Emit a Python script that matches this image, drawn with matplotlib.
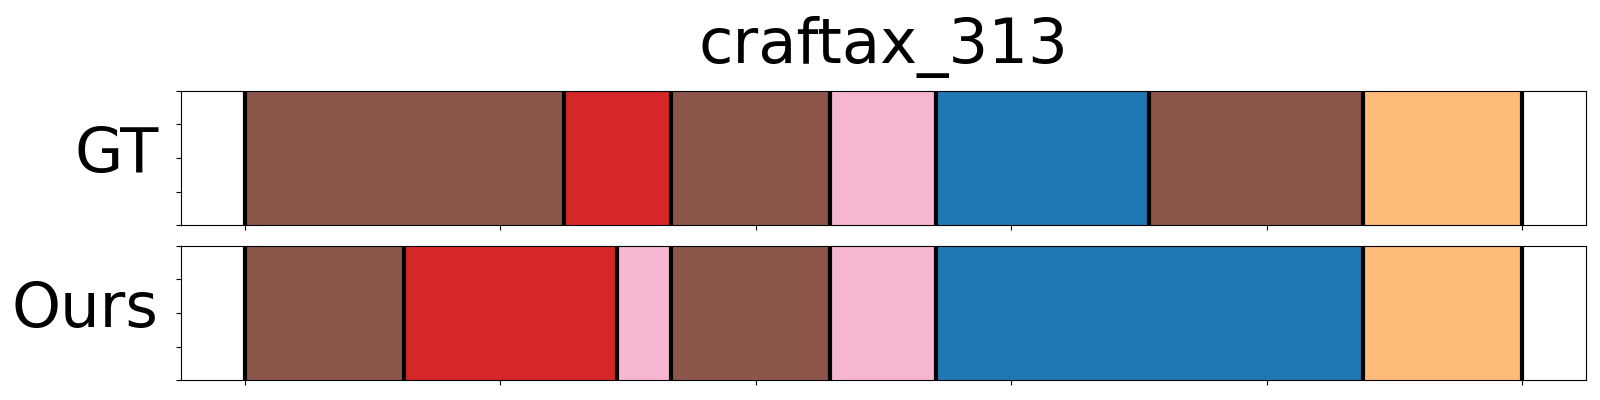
import numpy as np
import matplotlib
matplotlib.use("Agg")
import matplotlib.pyplot as plt

title = "craftax_313"
row_labels = ["GT", "Ours"]

# segment boundaries (frame indices) and class index (tab20 colour) for each segment
gt_bounds = [0, 62.4, 83.4, 114.5, 135.2, 177, 218.8, 250]
gt_classes = [10, 6, 10, 13, 0, 10, 3]
ours_bounds = [0, 31.2, 72.8, 83.4, 114.5, 135.2, 218.8, 250]
ours_classes = [10, 6, 13, 10, 13, 0, 3]
tick_step = 50

cmap = plt.get_cmap("tab20")

fig, axes = plt.subplots(2, 1, figsize=(16, 4), dpi=100)
fig.subplots_adjust(left=0.1133, right=0.9911, top=0.7733, bottom=0.049, hspace=0.152)

for ax, label, bounds, classes in zip(axes, row_labels,
                                      [gt_bounds, ours_bounds],
                                      [gt_classes, ours_classes]):
    for s, e, c in zip(bounds[:-1], bounds[1:], classes):
        ax.axvspan(s, e, ymin=0, ymax=1, color=cmap(c), lw=0)
    for b in bounds:
        ax.axvline(b, color="black", lw=3)
    total = bounds[-1]
    ax.set_xlim(-0.05 * total, 1.05 * total)
    ax.set_ylim(0, 1)
    ax.set_xticks(np.arange(0, total + 1, tick_step))
    ax.set_xticklabels([])
    ax.set_yticks(np.linspace(0, 1, 5))
    ax.set_yticklabels([])
    ax.set_ylabel(label, rotation=0, fontsize=45, ha="right", va="center", labelpad=2)
    ax.yaxis.set_label_coords(-0.016, 0.52)

axes[0].set_title(title, fontsize=45, pad=20)

fig.savefig("out.png", dpi=100)
